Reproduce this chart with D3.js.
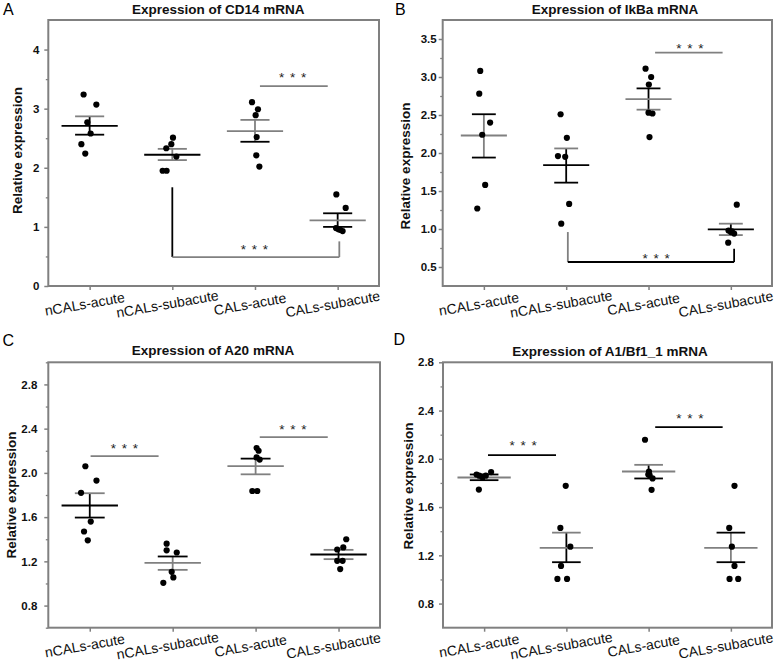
<!DOCTYPE html>
<html><head><meta charset="utf-8">
<script src="https://cdn.jsdelivr.net/npm/d3@7/dist/d3.min.js"></script>
<style>
body{margin:0;background:#fff;}
svg{display:block;font-family:"Liberation Sans",Arial,sans-serif;}
</style></head>
<body><svg id="chart" width="784" height="668"></svg>
<script>
// ---------------- DATA ----------------
const categories = ["nCALs-acute","nCALs-subacute","CALs-acute","CALs-subacute"];

// Panel A: CD14
const cd14Values = [[3.24,3.07,2.77,2.58,2.40,2.24],[2.51,2.40,2.33,2.19,1.95,1.95],[3.11,2.99,2.89,2.52,2.21,2.02],[1.55,1.32,0.98,0.96,0.95,0.93]];
const cd14Jitter = [[-0.073,0.081,-0.028,0.012,-0.10,-0.053],[0.008,-0.012,-0.073,0.049,-0.117,-0.069],[-0.036,0.036,0.008,0.02,0.016,0.053],[-0.016,0.097,-0.02,0.01,0.03,0.06]];
const cd14Mean = [2.71,2.22,2.62,1.11];
const cd14Upper = [2.87,2.32,2.81,1.23];
const cd14Lower = [2.56,2.13,2.44,1.00];
const cd14Ticks = [0,1,2,3,4];
const cd14Minor = [0.5,1.5,2.5,3.5];
const cd14Domain = [0,4.5];

// Panel B: IkBa
const ikbaValues = [[3.08,2.78,2.40,2.24,1.58,1.27],[2.51,2.20,1.96,1.95,1.33,1.07],[3.11,3.00,2.90,2.53,2.52,2.21],[1.32,0.98,0.97,0.96,0.94,0.82]];
const ikbaJitter = [[-0.044,-0.056,0.076,-0.02,0.016,-0.08],[-0.068,0.008,-0.1,-0.012,0.036,-0.06],[-0.036,0.032,0.004,0,0.048,0.012],[0.072,-0.028,0.012,0,0.04,-0.032]];
const ikbaMean = [2.23,1.84,2.71,0.996];
const ikbaUpper = [2.51,2.06,2.85,1.07];
const ikbaLower = [1.94,1.61,2.57,0.92];
const ikbaTicks = [0.5,1.0,1.5,2.0,2.5,3.0,3.5];
const ikbaMinor = [0.75,1.25,1.75,2.25,2.75,3.25];
const ikbaDomain = [0.25,3.75];

// Panel C: A20
const a20Values = [[2.06,1.93,1.82,1.56,1.47,1.39],[1.36,1.30,1.28,1.105,1.055,1.006],[2.225,2.20,2.14,2.12,1.836,1.836],[1.40,1.326,1.307,1.205,1.205,1.13]];
const a20Jitter = [[-0.053,0.081,-0.105,0.012,-0.069,-0.024],[-0.073,-0.073,0.049,-0.012,0.008,-0.113],[0.012,0.036,0.012,0.049,-0.04,0.02],[0.093,0.057,-0.016,-0.016,0.049,0.02]];
const a20Mean = [1.705,1.187,2.062,1.262];
const a20Upper = [1.816,1.244,2.129,1.304];
const a20Lower = [1.596,1.123,1.987,1.22];
const a20Ticks = [0.8,1.2,1.6,2.0,2.4,2.8];
const a20Minor = [0.6,1.0,1.4,1.8,2.2,2.6,3.0];
const a20Domain = [0.6,3.0];

// Panel D: A1/Bf1_1
const a1Values = [[1.87,1.85,1.86,1.89,1.86,1.745],[1.776,1.427,1.272,1.112,1.004,1.004],[2.158,1.895,1.865,1.837,1.743,1.87],[1.776,1.427,1.272,1.112,1.004,1.004]];
const a1Jitter = [[-0.092,-0.024,0.02,0.085,-0.06,-0.064],[-0.008,-0.073,0.048,-0.065,-0.109,0.008],[-0.044,0.004,0.012,0.048,0.036,-0.004],[0.044,-0.02,0.012,0.044,-0.016,0.089]];
const a1Mean = [1.845,1.261,1.895,1.261];
const a1Upper = [1.87,1.388,1.95,1.388];
const a1Lower = [1.823,1.143,1.837,1.143];
const a1Ticks = [0.8,1.2,1.6,2.0,2.4,2.8];
const a1Minor = [1.0,1.4,1.8,2.2,2.6];
const a1Domain = [0.6,2.8];

// significance annotations (category units / data units)
const cd14Sig = [{type:"line",x1:3.06,x2:3.88,y:3.38,lx:3.46,ly:3.58},
                 {type:"bracket",x1:2.0,x2:4.02,yL:1.67,y:0.49,yR:0.755,lx:3.0,ly:0.66}];
const ikbaSig = [{type:"line",x1:3.08,x2:3.90,y:3.32,lx:3.51,ly:3.42},
                 {type:"bracket",x1:2.02,x2:4.04,yL:0.96,y:0.566,yR:0.74,lx:3.10,ly:0.65}];
const a20Sig = [{type:"line",x1:1.01,x2:1.83,y:2.152,lx:1.425,ly:2.25},
                {type:"line",x1:3.05,x2:3.87,y:2.324,lx:3.455,ly:2.42}];
const a1Sig = [{type:"line",x1:1.047,x2:1.874,y:2.031,lx:1.48,ly:2.135},
               {type:"line",x1:3.08,x2:3.90,y:2.263,lx:3.507,ly:2.36}];

// ---------------- STYLE / LAYOUT ----------------
const K = "#000000", G = "#808080";
const panels = [
  {letter:"A", title:"Expression of CD14 mRNA", values:cd14Values, jitter:cd14Jitter, mean:cd14Mean, upper:cd14Upper, lower:cd14Lower,
   ticks:cd14Ticks, minor:cd14Minor, domain:cd14Domain, fmt:d3.format("d"), sig:cd14Sig,
   frame:{x0:48.3,x1:379,y0:20,y1:286}, pad:5, titlePos:[218.3,14], ylab:[17,150.5], letterPos:[3,15],
   meanHW:0.34, capHW:0.176,
   colors:[[G,K,K,K],[G,K,G,G],[G,G,K,G],[K,G,K,K]], sigColors:[[G],[K,G,G]]},
  {letter:"B", title:"Expression of IkBa mRNA", values:ikbaValues, jitter:ikbaJitter, mean:ikbaMean, upper:ikbaUpper, lower:ikbaLower,
   ticks:ikbaTicks, minor:ikbaMinor, domain:ikbaDomain, fmt:d3.format(".1f"), sig:ikbaSig,
   frame:{x0:442.7,x1:772,y0:20,y1:286}, pad:2, titlePos:[615,14], ylab:[405.3,166], letterPos:[395,15],
   meanHW:0.28, capHW:0.145,
   colors:[[K,G,K,G],[G,K,K,K],[K,G,G,K],[G,K,G,K]], sigColors:[[G],[G,K,K]]},
  {letter:"C", title:"Expression of A20 mRNA", values:a20Values, jitter:a20Jitter, mean:a20Mean, upper:a20Upper, lower:a20Lower,
   ticks:a20Ticks, minor:a20Minor, domain:a20Domain, fmt:d3.format(".1f"), sig:a20Sig,
   frame:{x0:48.3,x1:380,y0:362.3,y1:627.7}, pad:7, titlePos:[213,355], ylab:[11.7,495], letterPos:[2.5,345.5],
   meanHW:0.34, capHW:0.18,
   colors:[[G,K,K,K],[K,G,G,G],[K,G,G,G],[G,K,G,K]], sigColors:[[G],[G]]},
  {letter:"D", title:"Expression of A1/Bf1_1 mRNA", values:a1Values, jitter:a1Jitter, mean:a1Mean, upper:a1Upper, lower:a1Lower,
   ticks:a1Ticks, minor:a1Minor, domain:a1Domain, fmt:d3.format(".1f"), sig:a1Sig,
   frame:{x0:443,x1:772,y0:362.3,y1:627.7}, pad:5, titlePos:[610,356], ylab:[408.7,486], letterPos:[393.5,345],
   meanHW:0.324, capHW:0.174,
   colors:[[K,G,K,K],[G,G,K,K],[G,G,K,K],[K,G,K,G]], sigColors:[[K],[K]]}
];

const svg = d3.select("#chart");
const FONT = '"Liberation Sans",Arial,sans-serif';

panels.forEach(p => {
  const f = p.frame;
  const x = d3.scaleLinear().domain([0.5,4.5]).range([f.x0,f.x1]);
  const y = d3.scaleLinear().domain(p.domain).range([f.y1,f.y0]);
  const g = svg.append("g");

  // panel letter
  g.append("text").attr("x",p.letterPos[0]).attr("y",p.letterPos[1])
    .attr("font-size",16).attr("fill","#000").text(p.letter);
  // title
  g.append("text").attr("x",p.titlePos[0]).attr("y",p.titlePos[1]).attr("text-anchor","middle")
    .attr("font-size",13.5).attr("font-weight","bold").attr("fill","#111").text(p.title);
  // y label
  g.append("text").attr("transform",`translate(${p.ylab[0]},${p.ylab[1]}) rotate(-90)`)
    .attr("text-anchor","middle").attr("dy","0.35em")
    .attr("font-size",13.5).attr("font-weight","bold").attr("fill","#111").text("Relative expression");

  // minor ticks
  const minorAxis = g.append("g").attr("transform",`translate(${f.x0},0)`)
    .call(d3.axisLeft(y).tickValues(p.minor).tickSize(2.5).tickFormat(""));
  minorAxis.select(".domain").remove();
  minorAxis.selectAll("line").attr("stroke",G).attr("stroke-width",1.3);
  // major ticks
  const yAxis = g.append("g").attr("transform",`translate(${f.x0},0)`)
    .call(d3.axisLeft(y).tickValues(p.ticks).tickSize(4).tickPadding(p.pad).tickFormat(p.fmt));
  yAxis.select(".domain").remove();
  yAxis.selectAll("line").attr("stroke",G).attr("stroke-width",1.5);
  yAxis.selectAll("text").attr("font-size",11.5).attr("font-weight","bold").attr("fill","#111").attr("font-family",FONT);

  // x ticks
  const xAxis = g.append("g").attr("transform",`translate(0,${f.y1})`)
    .call(d3.axisBottom(x).tickValues([1,2,3,4]).tickSize(4).tickFormat(""));
  xAxis.select(".domain").remove();
  xAxis.selectAll("line").attr("stroke",G).attr("stroke-width",1.5);
  // x labels
  g.selectAll("text.xl").data(categories).enter().append("text").attr("class","xl")
    .attr("transform",(d,i)=>`translate(${x(i+1)-5},${f.y1+18}) rotate(-10)`)
    .attr("text-anchor","middle").attr("dy","0.35em")
    .attr("font-size",14).attr("fill","#111").text(d=>d);

  // frame
  g.append("rect").attr("x",f.x0).attr("y",f.y0).attr("width",f.x1-f.x0).attr("height",f.y1-f.y0)
    .attr("fill","none").attr("stroke",G).attr("stroke-width",2);

  // mean / SE
  categories.forEach((c,i) => {
    const cx = i+1, col = p.colors[i];
    const seg = (x1,y1,x2,y2,color)=> g.append("line").attr("x1",x1).attr("y1",y1).attr("x2",x2).attr("y2",y2)
      .attr("stroke",color).attr("stroke-width",1.8);
    seg(x(cx),y(p.upper[i]),x(cx),y(p.lower[i]),col[3]);
    seg(x(cx-p.capHW),y(p.upper[i]),x(cx+p.capHW),y(p.upper[i]),col[0]);
    seg(x(cx-p.capHW),y(p.lower[i]),x(cx+p.capHW),y(p.lower[i]),col[2]);
    seg(x(cx-p.meanHW),y(p.mean[i]),x(cx+p.meanHW),y(p.mean[i]),col[1]);
  });

  // points
  p.values.forEach((vals,i) => {
    g.selectAll(null).data(vals).enter().append("circle")
      .attr("cx",(d,j)=>x(i+1+p.jitter[i][j])).attr("cy",d=>y(d)).attr("r",3.1).attr("fill","#000");
  });

  // significance
  p.sig.forEach((s,k) => {
    const cols = p.sigColors[k];
    const seg = (x1,y1,x2,y2,color)=> g.append("line").attr("x1",x1).attr("y1",y1).attr("x2",x2).attr("y2",y2)
      .attr("stroke",color).attr("stroke-width",1.8);
    if (s.type==="line") {
      seg(x(s.x1),y(s.y),x(s.x2),y(s.y),cols[0]);
    } else {
      seg(x(s.x1),y(s.yL),x(s.x1),y(s.y),cols[0]);
      seg(x(s.x1),y(s.y),x(s.x2),y(s.y),cols[1]);
      seg(x(s.x2),y(s.y),x(s.x2),y(s.yR),cols[2]);
    }
    g.append("text").attr("x",x(s.lx)).attr("y",y(s.ly)+7.5).attr("text-anchor","middle")
      .attr("font-size",13.5).attr("fill","#222").attr("letter-spacing","1px").text("* * *");
  });
});
</script></body></html>
